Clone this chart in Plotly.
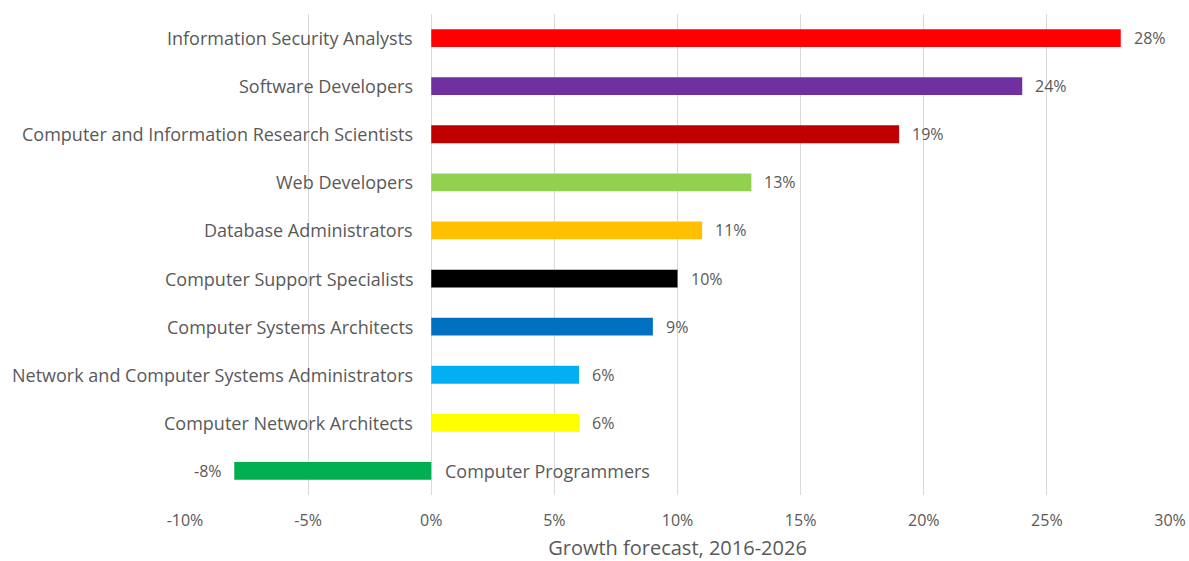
import plotly.graph_objects as go

categories = [
    "Information Security Analysts",
    "Software Developers",
    "Computer and Information Research Scientists",
    "Web Developers",
    "Database Administrators",
    "Computer Support Specialists",
    "Computer Systems Architects",
    "Network and Computer Systems Administrators",
    "Computer Network Architects",
    "Computer Programmers",
]
growth = [28, 24, 19, 13, 11, 10, 9, 6, 6, -8]
colors = ["#FF0000", "#7030A0", "#C00000", "#92D050", "#FFC000",
          "#000000", "#0070C0", "#00B0F0", "#FFFF00", "#00B050"]
tick_vals = [-10, -5, 0, 5, 10, 15, 20, 25, 30]
tick_text = ["-10%", "-5%", "0%", "5%", "10%", "15%", "20%", "25%", "30%"]

FONT = "Open Sans"
GREY = "#595959"

fig = go.Figure()
fig.add_trace(go.Bar(
    y=categories, x=growth, orientation="h",
    marker=dict(color=colors, line=dict(width=0)),
    width=0.37, showlegend=False, hoverinfo="skip",
))

annotations = []
for cat, v in zip(categories, growth):
    # category label beside zero line
    annotations.append(dict(
        x=0, y=cat, xref="x", yref="y", text=cat, showarrow=False,
        xanchor="right" if v >= 0 else "left",
        xshift=-16 if v >= 0 else 12,
        font=dict(family=FONT, size=18, color=GREY),
    ))
    # value label at bar end
    annotations.append(dict(
        x=v, y=cat, xref="x", yref="y", text=f"{v}%", showarrow=False,
        xanchor="left" if v >= 0 else "right",
        xshift=11 if v >= 0 else -10,
        font=dict(family=FONT, size=16, color=GREY),
    ))

fig.update_layout(
    width=1189, height=561,
    margin=dict(l=185, r=19, t=14, b=66),
    plot_bgcolor="white", paper_bgcolor="white",
    font=dict(family=FONT, color=GREY),
    annotations=annotations,
    xaxis=dict(
        range=[-10, 30], tickvals=tick_vals, ticktext=tick_text,
        showgrid=True, gridcolor="#D9D9D9", gridwidth=1,
        zeroline=True, zerolinecolor="#D9D9D9", zerolinewidth=1,
        showline=False, ticks="", ticklabelstandoff=14,
        automargin=False, ticklabeloverflow="allow",
        tickfont=dict(family=FONT, size=16, color=GREY),
        title=dict(text="Growth forecast, 2016-2026", font=dict(family=FONT, size=20, color=GREY), standoff=15),
    ),
    yaxis=dict(
        autorange="reversed", showticklabels=False, showgrid=False,
        zeroline=False, showline=False, ticks="", automargin=False,
    ),
)

fig.write_html("out.html")
